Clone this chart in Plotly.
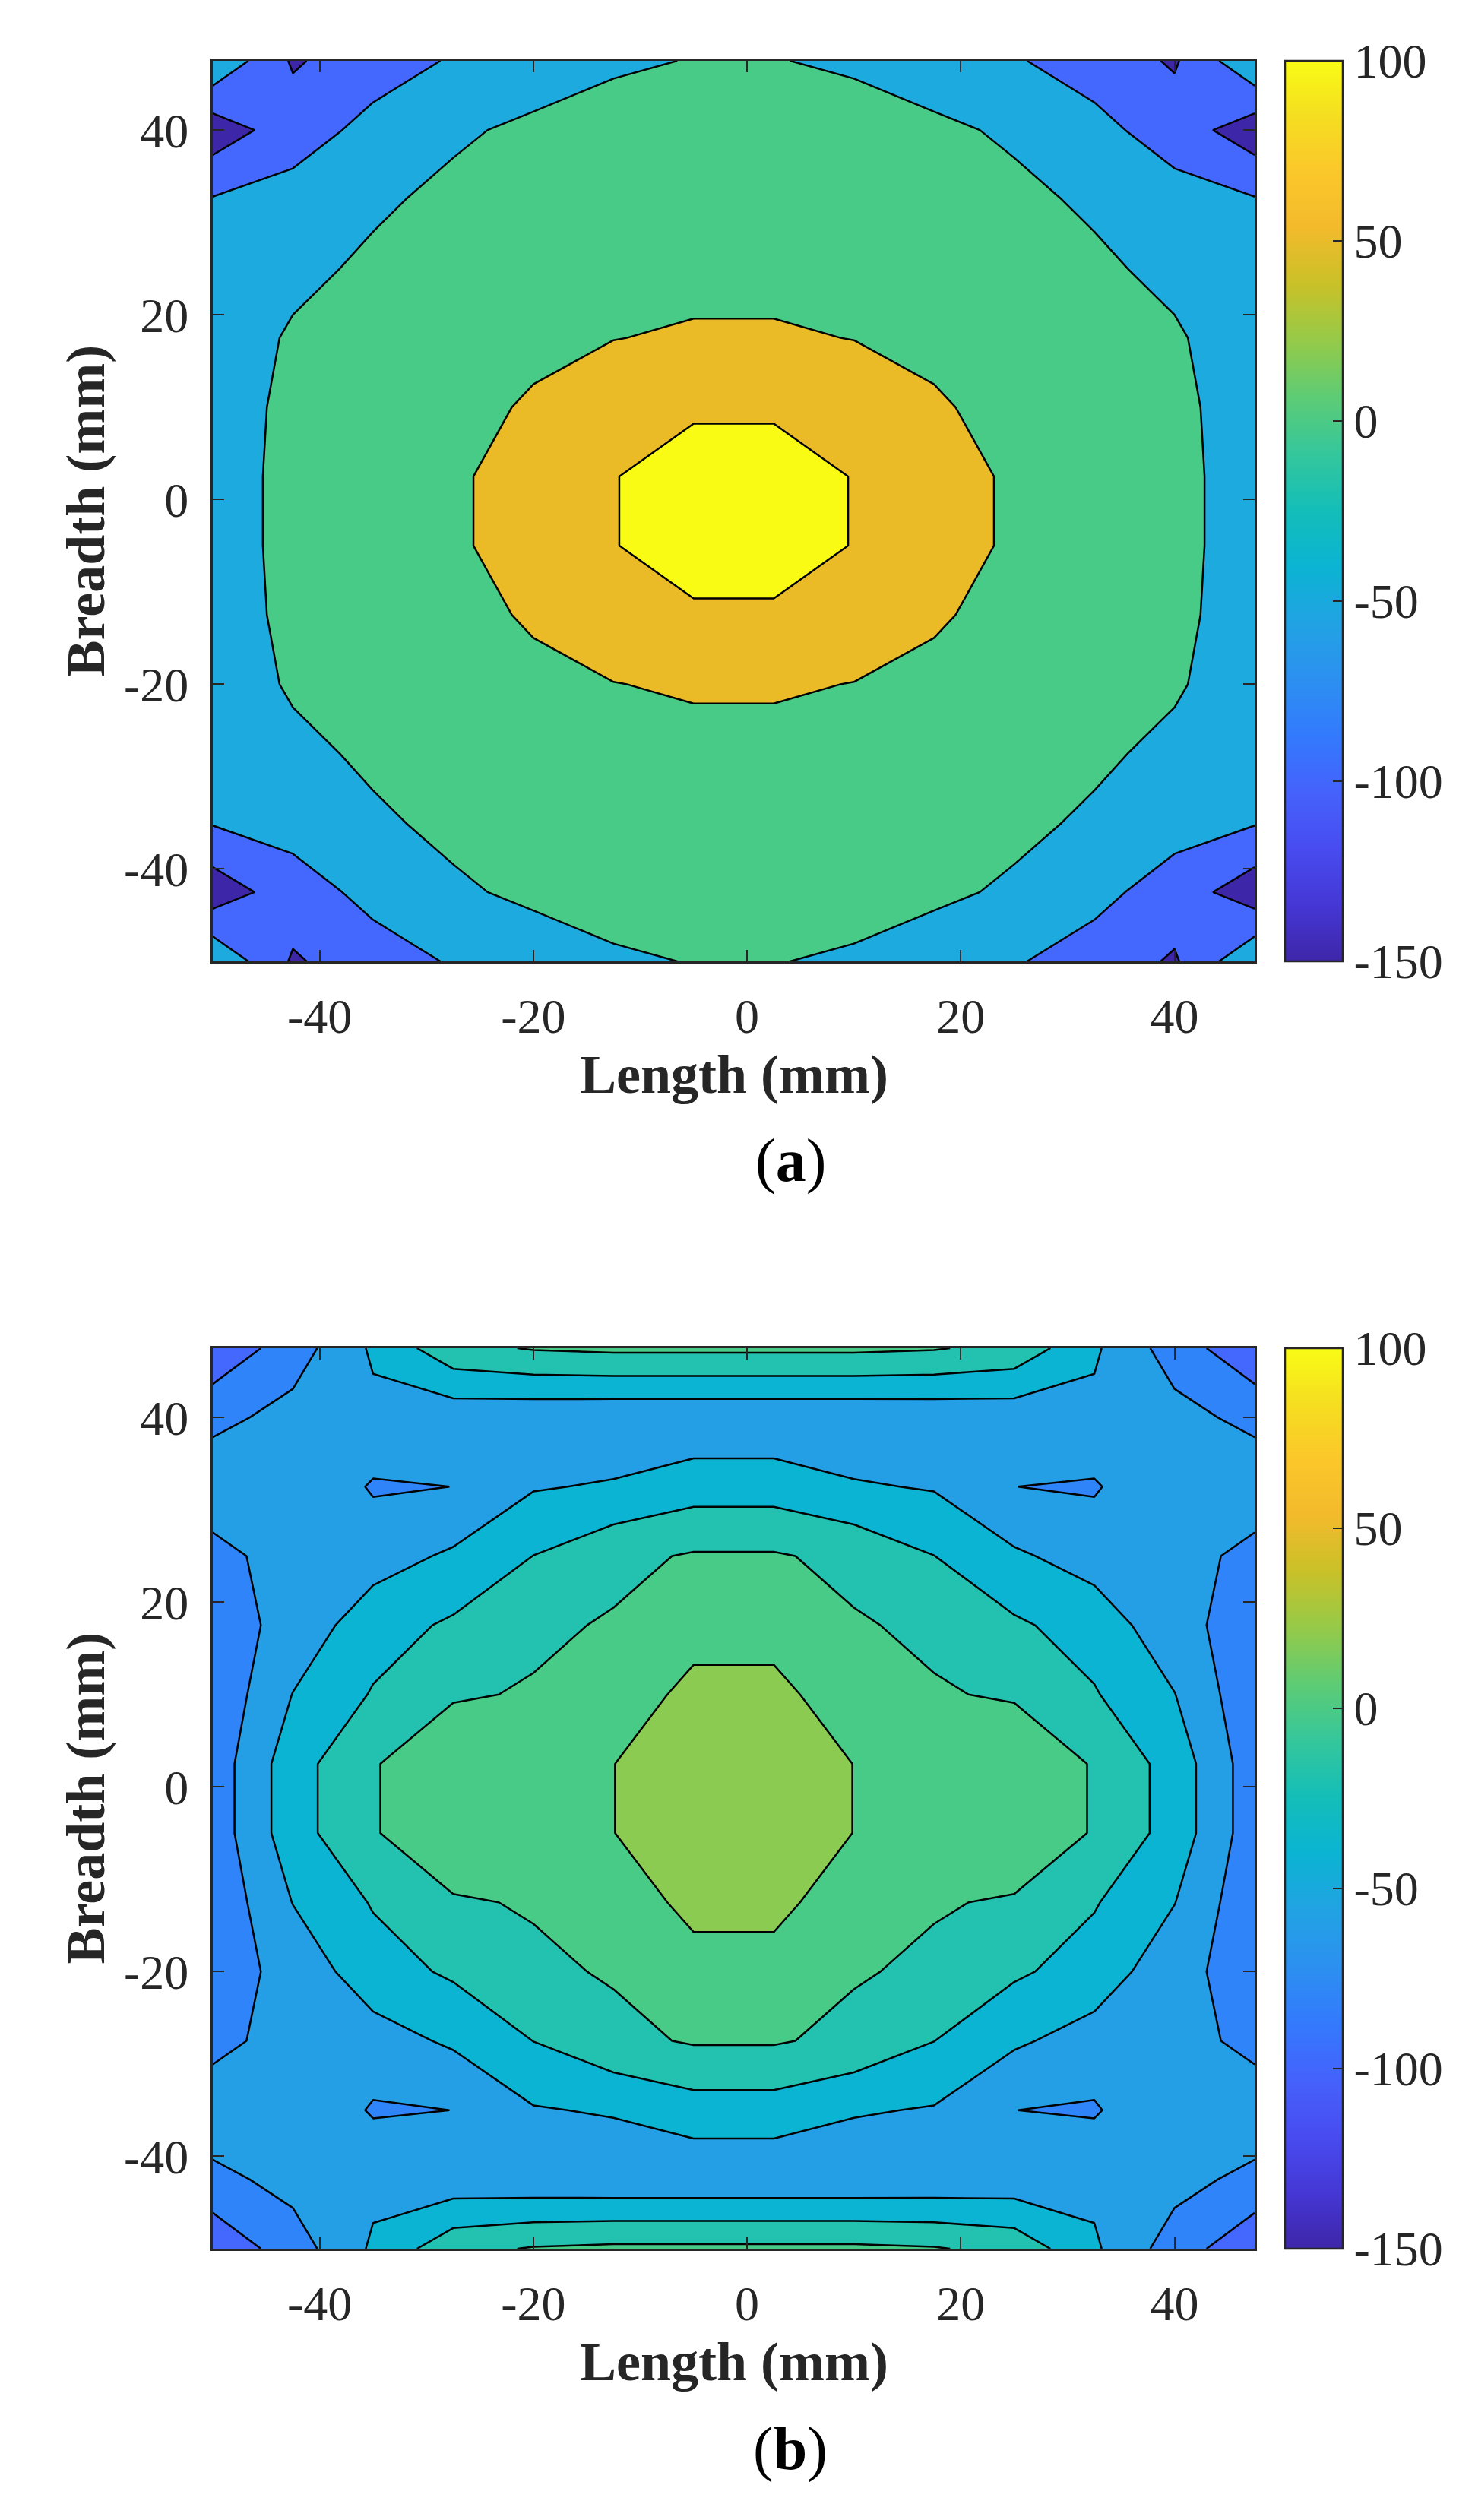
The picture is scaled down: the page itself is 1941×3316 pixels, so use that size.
import plotly.graph_objects as go

# ---------------- data ----------------
x_mm = [-50, -42.5, -35, -27.5, -20, -12.5, -5, 2.5, 10, 17.5, 25, 32.5, 40, 47.5]
y_mm = [-50, -42.5, -35, -27.5, -20, -12.5, -5, 2.5, 10, 17.5, 25, 32.5, 40, 47.5]

# panel (a): rows follow y_mm (bottom -> top), columns follow x_mm
z_a = [
    [-5.3, -106, -71, -46, -22, -3.9, 1.0, 1.0, -3.9, -22, -46, -71, -106, -5.3],
    [-130, -72.3, -36, -6, 8, 11.3, 14.1, 14.1, 11.3, 8, -6, -36, -72.3, -130],
    [-46.7, -32, -6.2, 9.0, 18.0, 24.1, 27.2, 27.2, 24.1, 18.0, 9.0, -6.2, -32, -46.7],
    [-36, -10, 7.1, 19.8, 30.0, 36.9, 37, 37, 36.9, 30.0, 19.8, 7.1, -10, -36],
    [-25, 5.0, 15.5, 30.0, 41.9, 49, 55, 55, 49, 41.9, 30.0, 15.5, 5.0, -25],
    [-12.5, 6.0, 22.2, 39.1, 54, 78.7, 96, 96, 78.7, 54, 39.1, 22.2, 6.0, -12.5],
    [-12, 7.2, 26.3, 43, 70.7, 99, 112.8, 112.8, 99, 70.7, 43, 26.3, 7.2, -12],
    [-12, 7.2, 26.3, 43, 70.7, 99, 112.8, 112.8, 99, 70.7, 43, 26.3, 7.2, -12],
    [-12.5, 6.0, 22.2, 39.1, 54, 78.7, 96, 96, 78.7, 54, 39.1, 22.2, 6.0, -12.5],
    [-25, 5.0, 15.5, 30.0, 41.9, 49, 55, 55, 49, 41.9, 30.0, 15.5, 5.0, -25],
    [-36, -10, 7.1, 19.8, 30.0, 36.9, 37, 37, 36.9, 30.0, 19.8, 7.1, -10, -36],
    [-46.7, -32, -6.2, 9.0, 18.0, 24.1, 27.2, 27.2, 24.1, 18.0, 9.0, -6.2, -32, -46.7],
    [-130, -72.3, -36, -6, 8, 11.3, 14.1, 14.1, 11.3, 8, -6, -36, -72.3, -130],
    [-5.3, -106, -71, -46, -22, -3.9, 1.0, 1.0, -3.9, -22, -46, -71, -106, -5.3],
]

# panel (b)
z_b = [
    [-95, -70, -37, -6, 1.5, 4, 4, 4, 4, 1.5, -6, -37, -70, -95],
    [-66, -53, -45.1, -53, -55, -56, -56, -56, -56, -55, -53, -45.1, -53, -66],
    [-45, -42, -62, -59.9, -41.5, -38, -28.9, -28.9, -38, -41.5, -59.9, -62, -42, -45],
    [-67.7, -49.4, -48.5, -37, -19.8, -5, 1.85, 1.85, -5, -19.8, -37, -48.5, -49.4, -67.7],
    [-70.5, -53, -28.5, -17, -3.45, 1.7, 12, 12, 1.7, -3.45, -17, -28.5, -53, -70.5],
    [-75.5, -39.5, -18.5, -2.05, 1.55, 7.7, 26, 26, 7.7, 1.55, -2.05, -18.5, -39.5, -75.5],
    [-71.8, -28.3, -1.5, 15, 16, 19.8, 30, 30, 19.8, 16, 15, -1.5, -28.3, -71.8],
    [-71.8, -28.3, -1.5, 15, 16, 19.8, 30, 30, 19.8, 16, 15, -1.5, -28.3, -71.8],
    [-75.5, -39.5, -18.5, -2.05, 1.55, 7.7, 26, 26, 7.7, 1.55, -2.05, -18.5, -39.5, -75.5],
    [-70.5, -53, -28.5, -17, -3.45, 1.7, 12, 12, 1.7, -3.45, -17, -28.5, -53, -70.5],
    [-67.7, -49.4, -48.5, -37, -19.8, -5, 1.85, 1.85, -5, -19.8, -37, -48.5, -49.4, -67.7],
    [-45, -42, -62, -59.9, -41.5, -38, -28.9, -28.9, -38, -41.5, -59.9, -62, -42, -45],
    [-66, -53, -45.1, -53, -55, -56, -56, -56, -56, -55, -53, -45.1, -53, -66],
    [-95, -70, -37, -6, 1.5, 4, 4, 4, 4, 1.5, -6, -37, -70, -95],
]

levels_a = [-150, -100, -50, 0, 50, 100]
levels_b = [-100, -80, -60, -40, -20, 0, 20]

axis_tick_vals = [-40, -20, 0, 20, 40]
axis_tick_text = ['-40', '-20', '0', '20', '40']
cbar_tick_vals = [-150, -100, -50, 0, 50, 100]
cbar_tick_text = ['-150', '-100', '-50', '0', '50', '100']
captions = ['(<b>a</b>)', '(<b>b</b>)']
x_title = '<b>Length (mm)</b>'
y_title = '<b>Breadth (mm)</b>'

# ---------------- style ----------------
CMIN, CMAX = -150, 100
# parula colour of each contour level (fill colour of the band above it)
LEVEL_COLOR = {
    -150: '#3E26A8', -100: '#4467FD', -80: '#2E84F8', -60: '#249FE5',
    -50: '#1CAADF', -40: '#0BB4D2', -20: '#23C1B0', 0: '#48CB86',
    20: '#8CCB51', 50: '#EABA27', 100: '#F9FB15',
}
PARULA = [
    [0.0000, '#3E26A8'], [0.0627, '#4537D5'], [0.1255, '#484CF0'],
    [0.1882, '#4562FC'], [0.2510, '#337AFD'], [0.3137, '#2C90F0'],
    [0.3765, '#21A3E3'], [0.4392, '#0BB4D2'], [0.5020, '#14BEB8'],
    [0.5647, '#35C79B'], [0.6275, '#5ECC74'], [0.6902, '#96CA48'],
    [0.7529, '#CAC128'], [0.8157, '#F3BA2C'], [0.8784, '#FBC82A'],
    [0.9412, '#F5DF20'], [1.0000, '#F9FB15'],
]

W, H = 1941, 3316
PLOT_L, PLOT_R = 272, 1643
PANELS = [(72, 1257), (1766, 2951)]
CB_L, CB_W = 1683, 76
INK = '#262626'
SERIF = 'Liberation Serif'


def fx(p):
    return p / W


def fy(p):
    return 1 - p / H


fig = go.Figure()
datasets = [(z_a, levels_a), (z_b, levels_b)]
for k, (z, lv) in enumerate(datasets):
    sfx = '' if k == 0 else str(k + 1)
    size = lv[1] - lv[0]
    nc = len(lv)
    bands = [LEVEL_COLOR[lv[0]]] + [LEVEL_COLOR[L] for L in lv]
    cscale = [[j / nc, bands[j]] for j in range(nc + 1)]
    fig.add_trace(go.Contour(
        x=x_mm, y=y_mm, z=z,
        autocontour=False,
        contours=dict(start=lv[0], end=lv[-1], size=size,
                      coloring='fill', showlines=True),
        line=dict(color='black', width=2.5, smoothing=0),
        colorscale=cscale, showscale=False,
        hoverinfo='skip', xaxis='x' + sfx, yaxis='y' + sfx,
    ))
    top, bot = PANELS[k]
    fig.add_trace(go.Scatter(
        x=[None], y=[None], mode='markers', showlegend=False,
        hoverinfo='skip', xaxis='x' + sfx, yaxis='y' + sfx,
        marker=dict(
            color=[CMIN], colorscale=PARULA, cmin=CMIN, cmax=CMAX,
            showscale=True,
            colorbar=dict(
                x=fx(CB_L), xanchor='left', xpad=0,
                y=(fy(top) + fy(bot)) / 2, yanchor='middle', ypad=0,
                len=(bot - top) / H, lenmode='fraction',
                thickness=CB_W, thicknessmode='pixels',
                outlinewidth=2.5, outlinecolor=INK,
                tickmode='array', tickvals=cbar_tick_vals, ticktext=cbar_tick_text,
                ticks='inside', ticklen=14, tickwidth=2, tickcolor=INK,
                tickfont=dict(family=SERIF, size=64, color=INK),
            ),
        ),
    ))

    axis_common = dict(
        range=[-50, 47.5], showgrid=False, zeroline=False,
        showline=True, linewidth=3, linecolor=INK, mirror='ticks',
        ticks='inside', ticklen=15, tickwidth=2, tickcolor=INK,
        tickmode='array', tickvals=axis_tick_vals, ticktext=axis_tick_text,
        tickfont=dict(family=SERIF, size=64, color=INK),
    )
    fig.update_layout(**{
        'xaxis' + sfx: dict(axis_common, domain=[fx(PLOT_L), fx(PLOT_R)],
                            anchor='y' + sfx, ticklabelstandoff=14),
        'yaxis' + sfx: dict(axis_common, domain=[fy(bot), fy(top)],
                            anchor='x' + sfx, ticklabelstandoff=16),
    })

    off = top - PANELS[0][0]
    fig.add_annotation(text=x_title, xref='paper', yref='paper',
                       x=fx((PLOT_L + PLOT_R) / 2), y=fy(1406 + off),
                       xanchor='center', yanchor='middle', showarrow=False,
                       font=dict(family=SERIF, size=72, color=INK))
    fig.add_annotation(text=y_title, xref='paper', yref='paper',
                       x=fx(104), y=(fy(top) + fy(bot)) / 2, textangle=-90,
                       xanchor='center', yanchor='middle', showarrow=False,
                       font=dict(family=SERIF, size=72, color=INK))
    fig.add_annotation(text=captions[k], xref='paper', yref='paper',
                       x=fx(1032), y=fy(1520 + off),
                       xanchor='center', yanchor='middle', showarrow=False,
                       font=dict(family=SERIF, size=80, color='black'))

fig.update_layout(
    width=W, height=H, autosize=False,
    margin=dict(l=0, r=0, t=0, b=0),
    paper_bgcolor='white', plot_bgcolor='white', showlegend=False,
)

fig.write_html('out.html')
